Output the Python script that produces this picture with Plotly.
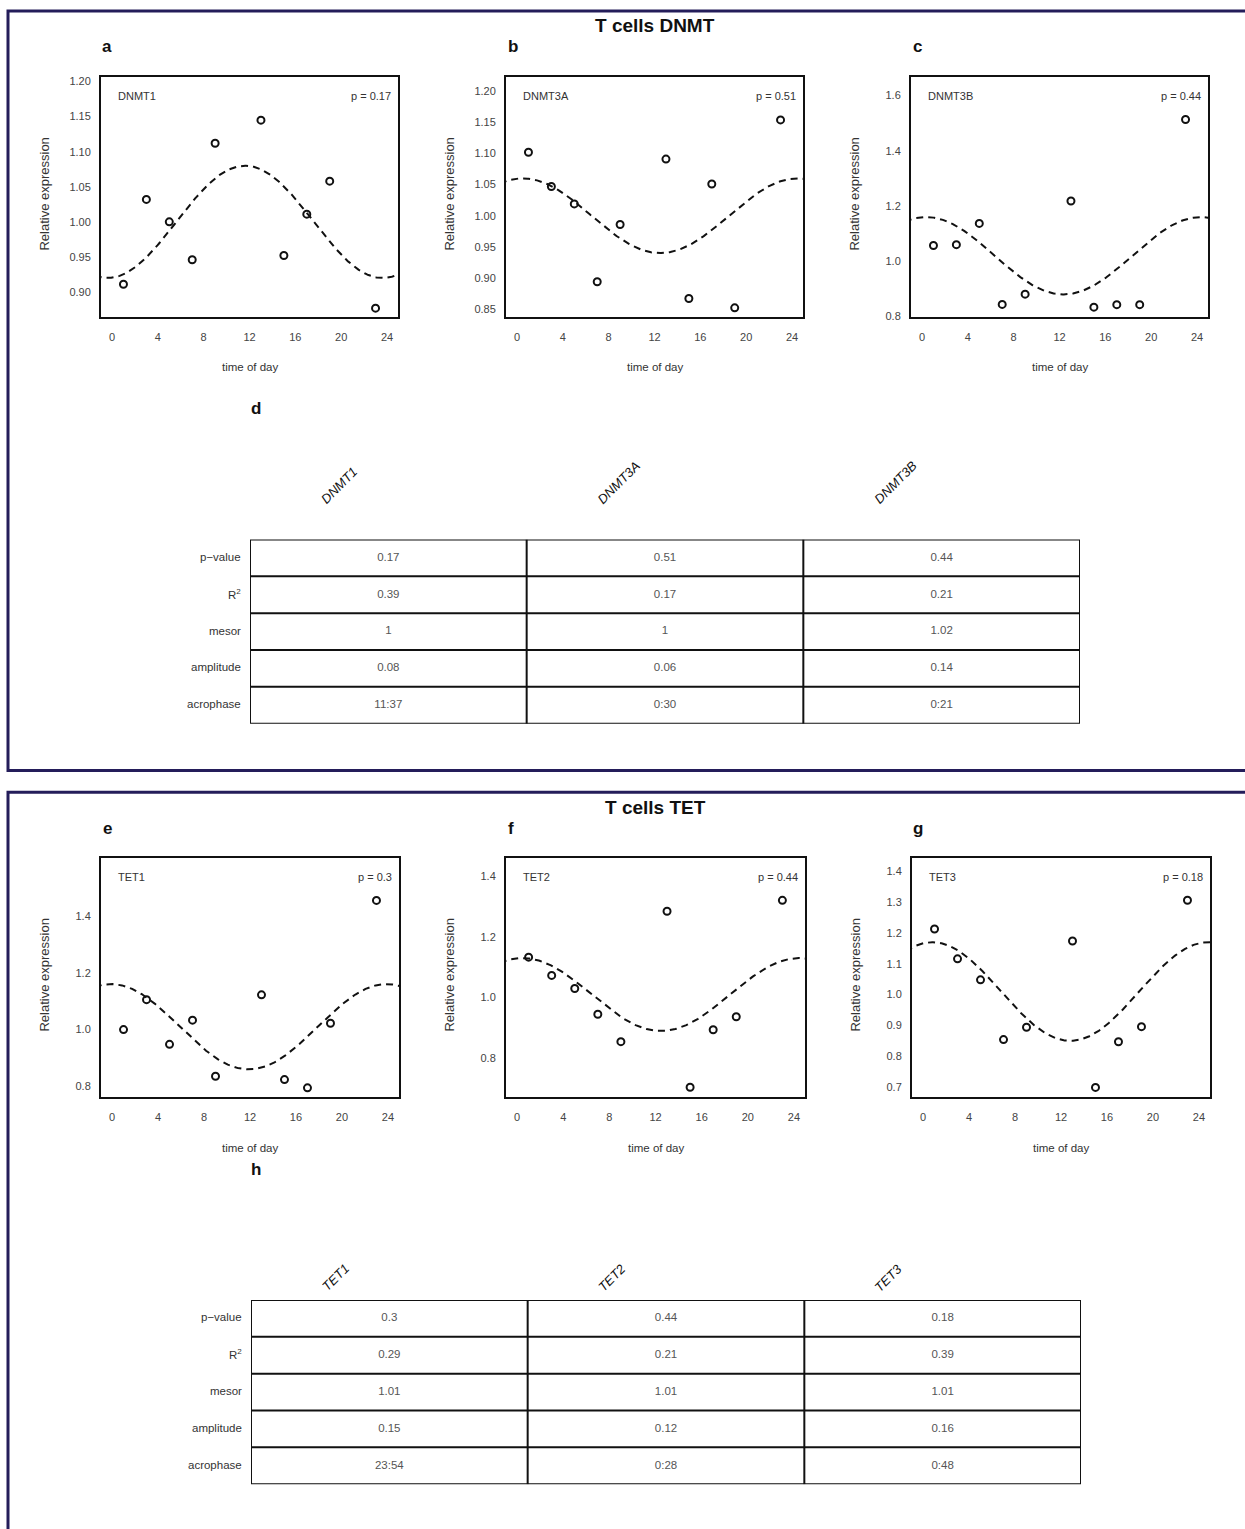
import numpy as np
import plotly.graph_objects as go

W, H = 1245, 1529

# ---------------- data ----------------
hours = [1, 3, 5, 7, 9, 13, 15, 17, 19, 23]
dnmt1 = [0.911, 1.032, 1.000, 0.946, 1.112, 1.145, 0.952, 1.011, 1.058, 0.877]
dnmt3a = [1.102, 1.047, 1.019, 0.894, 0.986, 1.091, 0.867, 1.051, 0.852, 1.154]
dnmt3b = [1.057, 1.060, 1.137, 0.844, 0.881, 1.218, 0.834, 0.843, 0.843, 1.513]
tet1 = [1.000, 1.105, 0.948, 1.033, 0.836, 1.122, 0.824, 0.795, 1.022, 1.454]
tet2 = [1.133, 1.073, 1.030, 0.945, 0.855, 1.284, 0.705, 0.894, 0.937, 1.320]
tet3 = [1.213, 1.116, 1.048, 0.854, 0.894, 1.174, 0.699, 0.847, 0.896, 1.306]

dnmt_genes = ["DNMT1", "DNMT3A", "DNMT3B"]
tet_genes = ["TET1", "TET2", "TET3"]
row_labels = ["p\u2212value", "R<sup>2</sup>", "mesor", "amplitude", "acrophase"]

p_values = {"DNMT1": "0.17", "DNMT3A": "0.51", "DNMT3B": "0.44",
            "TET1": "0.3", "TET2": "0.44", "TET3": "0.18"}
r2_values = {"DNMT1": "0.39", "DNMT3A": "0.17", "DNMT3B": "0.21",
             "TET1": "0.29", "TET2": "0.21", "TET3": "0.39"}
mesor_values = {"DNMT1": "1", "DNMT3A": "1", "DNMT3B": "1.02",
                "TET1": "1.01", "TET2": "1.01", "TET3": "1.01"}
amplitude_values = {"DNMT1": "0.08", "DNMT3A": "0.06", "DNMT3B": "0.14",
                    "TET1": "0.15", "TET2": "0.12", "TET3": "0.16"}
acrophase_values = {"DNMT1": "11:37", "DNMT3A": "0:30", "DNMT3B": "0:21",
                    "TET1": "23:54", "TET2": "0:28", "TET3": "0:48"}

x_ticks = [0, 4, 8, 12, 16, 20, 24]
y_ticks = {
    "DNMT1": [0.90, 0.95, 1.00, 1.05, 1.10, 1.15, 1.20],
    "DNMT3A": [0.85, 0.90, 0.95, 1.00, 1.05, 1.10, 1.15, 1.20],
    "DNMT3B": [0.8, 1.0, 1.2, 1.4, 1.6],
    "TET1": [0.8, 1.0, 1.2, 1.4],
    "TET2": [0.8, 1.0, 1.2, 1.4],
    "TET3": [0.7, 0.8, 0.9, 1.0, 1.1, 1.2, 1.3, 1.4],
}
y_tickformat = {"DNMT1": ".2f", "DNMT3A": ".2f", "DNMT3B": ".1f",
                "TET1": ".1f", "TET2": ".1f", "TET3": ".1f"}
y_ranges = {"DNMT1": [0.865, 1.207], "DNMT3A": [0.838, 1.2235],
            "DNMT3B": [0.80, 1.668], "TET1": [0.763, 1.603],
            "TET2": [0.673, 1.459], "TET3": [0.668, 1.443]}
series = {"DNMT1": dnmt1, "DNMT3A": dnmt3a, "DNMT3B": dnmt3b,
          "TET1": tet1, "TET2": tet2, "TET3": tet3}

# ---------------- layout helpers ----------------
def px(x):
    return x / W

def py(y):
    return 1 - y / H

# panel pixel boxes: (left, right, top, bottom)
boxes = {
    "DNMT1": (101, 398, 76, 317),
    "DNMT3A": (506, 803, 76, 317),
    "DNMT3B": (911, 1208, 76, 317),
    "TET1": (101, 399, 861, 1101),
    "TET2": (506, 805, 861, 1101),
    "TET3": (912, 1210, 861, 1101),
}

FONT = "Liberation Sans, Arial, Helvetica, sans-serif"
NARROW = "Liberation Sans Narrow, Liberation Sans, Arial, sans-serif"
TXT = "#333333"

fig = go.Figure()
annotations = []
shapes = []

def hrs(s):
    h, m = s.split(":")
    return int(h) + int(m) / 60.0

order = dnmt_genes + tet_genes
for i, g in enumerate(order, start=1):
    l, r, t, b = boxes[g]
    xa = "x" if i == 1 else f"x{i}"
    ya = "y" if i == 1 else f"y{i}"
    # cosinor fit from table parameters
    mes = float(mesor_values[g])
    amp = float(amplitude_values[g])
    acro = hrs(acrophase_values[g])
    tt = np.linspace(-1.5, 25.5, 400)
    fit = mes + amp * np.cos(2 * np.pi * (tt - acro) / 24.0)
    fig.add_trace(go.Scatter(x=tt, y=fit, mode="lines", xaxis=xa, yaxis=ya,
                             line=dict(color="#111111", width=2, dash="7px,5px"),
                             showlegend=False, hoverinfo="skip"))
    fig.add_trace(go.Scatter(x=hours, y=series[g], mode="markers", xaxis=xa, yaxis=ya,
                             marker=dict(symbol="circle-open", size=7, color="#111111",
                                         line=dict(width=2, color="#111111")),
                             showlegend=False))
    xkey = "xaxis" if i == 1 else f"xaxis{i}"
    ykey = "yaxis" if i == 1 else f"yaxis{i}"
    fig.update_layout(**{
        xkey: dict(domain=[px(l), px(r)], anchor=ya, range=[-0.96, 24.96],
                   tickvals=x_ticks, ticktext=[str(v) for v in x_ticks],
                   showgrid=False, zeroline=False, showline=True, mirror=True,
                   linecolor="#111111", linewidth=2, ticks="outside", ticklen=9,
                   tickcolor="rgba(0,0,0,0)",
                   tickfont=dict(family=FONT, size=11, color="#444444")),
        ykey: dict(domain=[py(b), py(t)], anchor=xa, range=y_ranges[g],
                   tickvals=y_ticks[g], tickformat=y_tickformat[g],
                   showgrid=False, zeroline=False, showline=True, mirror=True,
                   linecolor="#111111", linewidth=2, ticks="outside", ticklen=6,
                   tickcolor="rgba(0,0,0,0)",
                   tickfont=dict(family=FONT, size=11, color="#444444")),
    })
    # inner labels
    annotations.append(dict(x=px(l + 15), y=py(t + 19), xref="paper", yref="paper",
                            text=g, showarrow=False, xanchor="left", yanchor="middle",
                            font=dict(family=FONT, size=11, color=TXT)))
    annotations.append(dict(x=px(r - 5), y=py(t + 19), xref="paper", yref="paper",
                            text=f"p = {p_values[g]}", showarrow=False, xanchor="right",
                            yanchor="middle", font=dict(family=FONT, size=11, color=TXT)))
    # axis titles
    annotations.append(dict(x=px(l - 56), y=py((t + b) / 2 - 2), xref="paper", yref="paper",
                            text="Relative expression", showarrow=False, textangle=-90,
                            xanchor="center", yanchor="middle",
                            font=dict(family=FONT, size=13, color=TXT)))
    annotations.append(dict(x=px((l + r) / 2), y=py(b + 51), xref="paper", yref="paper",
                            text="time of day", showarrow=False,
                            xanchor="center", yanchor="middle",
                            font=dict(family=FONT, size=11.5, color=TXT)))

# titles and panel letters
for text, x, y, size in [("T cells DNMT", 655, 25, 19), ("T cells TET", 655, 810, 19)]:
    annotations.append(dict(x=px(x), y=py(y), xref="paper", yref="paper", text=f"<b>{text}</b>",
                            showarrow=False, xanchor="center", yanchor="middle",
                            font=dict(family=NARROW, size=size, color="#111111")))
for text, x, y in [("a", 107, 46), ("b", 513, 46), ("c", 917, 46), ("d", 256, 409),
                   ("e", 107, 831), ("f", 511, 831), ("g", 918, 831), ("h", 256, 1174)]:
    annotations.append(dict(x=px(x), y=py(y), xref="paper", yref="paper", text=f"<b>{text}</b>",
                            showarrow=False, xanchor="center", yanchor="middle",
                            font=dict(family=NARROW, size=17, color="#111111")))

# ---------------- tables (drawn on hidden axes) ----------------
CHAR_W = {"D": .722, "N": .722, "M": .833, "T": .611, "E": .667, "A": .667,
          "B": .667, "1": .556, "2": .556, "3": .556}

def add_table(idx, genes, left, right, top, row_h, head_gap):
    xa, ya = f"x{idx}", f"y{idx}"
    n_rows = len(row_labels)
    bottom = top + row_h * n_rows
    fig.update_layout(**{
        f"xaxis{idx}": dict(domain=[px(left), px(right)], anchor=ya, range=[0, len(genes)],
                            visible=False, fixedrange=True),
        f"yaxis{idx}": dict(domain=[py(bottom), py(top)], anchor=xa, range=[n_rows, 0],
                            visible=False, fixedrange=True),
    })
    cols = []
    for g in genes:
        cols.append([p_values[g], r2_values[g], mesor_values[g],
                     amplitude_values[g], acrophase_values[g]])
    xs, ys, txt = [], [], []
    for j, c in enumerate(cols):
        for k, v in enumerate(c):
            xs.append(j + 0.5)
            ys.append(k + 0.5)
            txt.append(v)
    fig.add_trace(go.Scatter(x=xs, y=ys, text=txt, mode="text", xaxis=xa, yaxis=ya,
                             textfont=dict(family=NARROW, size=11.5, color="#555555"),
                             textposition="middle center", showlegend=False,
                             hoverinfo="skip"))
    line = dict(color="#111111", width=2)
    shapes.append(dict(type="rect", xref=xa, yref=ya, x0=0, x1=len(genes), y0=0,
                       y1=n_rows, line=line))
    for k in range(1, n_rows):
        shapes.append(dict(type="line", xref=xa, yref=ya, x0=0, x1=len(genes),
                           y0=k, y1=k, line=line))
    for j in range(1, len(genes)):
        shapes.append(dict(type="line", xref=xa, yref=ya, x0=j, x1=j,
                           y0=0, y1=n_rows, line=line))
    for k, lab in enumerate(row_labels):
        annotations.append(dict(x=0, y=k + 0.5, xref=xa, yref=ya, xshift=-7, yshift=1,
                                text=lab, showarrow=False,
                                xanchor="right", yanchor="middle",
                                font=dict(family=NARROW, size=11.5, color=TXT)))
    fs = 13
    for j, g in enumerate(genes):
        L = fs * sum(CHAR_W.get(ch, 0.6) for ch in g)
        sx, sy = -65, head_gap  # start of rotated header relative to column centre / table top
        cx = sx + L / 2 * np.cos(np.pi / 4)
        cy = sy + L / 2 * np.sin(np.pi / 4)
        annotations.append(dict(x=j + 0.5, y=0, xref=xa, yref=ya,
                                xshift=cx, yshift=cy,
                                text=f"<i>{g}</i>", showarrow=False, textangle=-45,
                                xanchor="center", yanchor="middle",
                                font=dict(family=NARROW, size=fs, color="#111111")))

add_table(7, dnmt_genes, 250, 1080, 541, 37, 38)
add_table(8, tet_genes, 251, 1081, 1305, 37, 11)

# ---------------- frames ----------------
NAVY = "#241d5a"
shapes.append(dict(type="rect", xref="paper", yref="paper", x0=px(8), x1=px(1260),
                   y0=py(773), y1=py(10), line=dict(color=NAVY, width=3)))
shapes.append(dict(type="rect", xref="paper", yref="paper", x0=px(8), x1=px(1260),
                   y0=py(1545), y1=py(795), line=dict(color=NAVY, width=3)))

fig.update_layout(width=W, height=H, margin=dict(l=0, r=0, t=0, b=0),
                  paper_bgcolor="white", plot_bgcolor="white",
                  annotations=annotations, shapes=shapes, showlegend=False,
                  font=dict(family=FONT))

fig.write_html("out.html", config={"displayModeBar": False},
               post_script="document.body.style.margin='0';document.body.style.padding='0';")
